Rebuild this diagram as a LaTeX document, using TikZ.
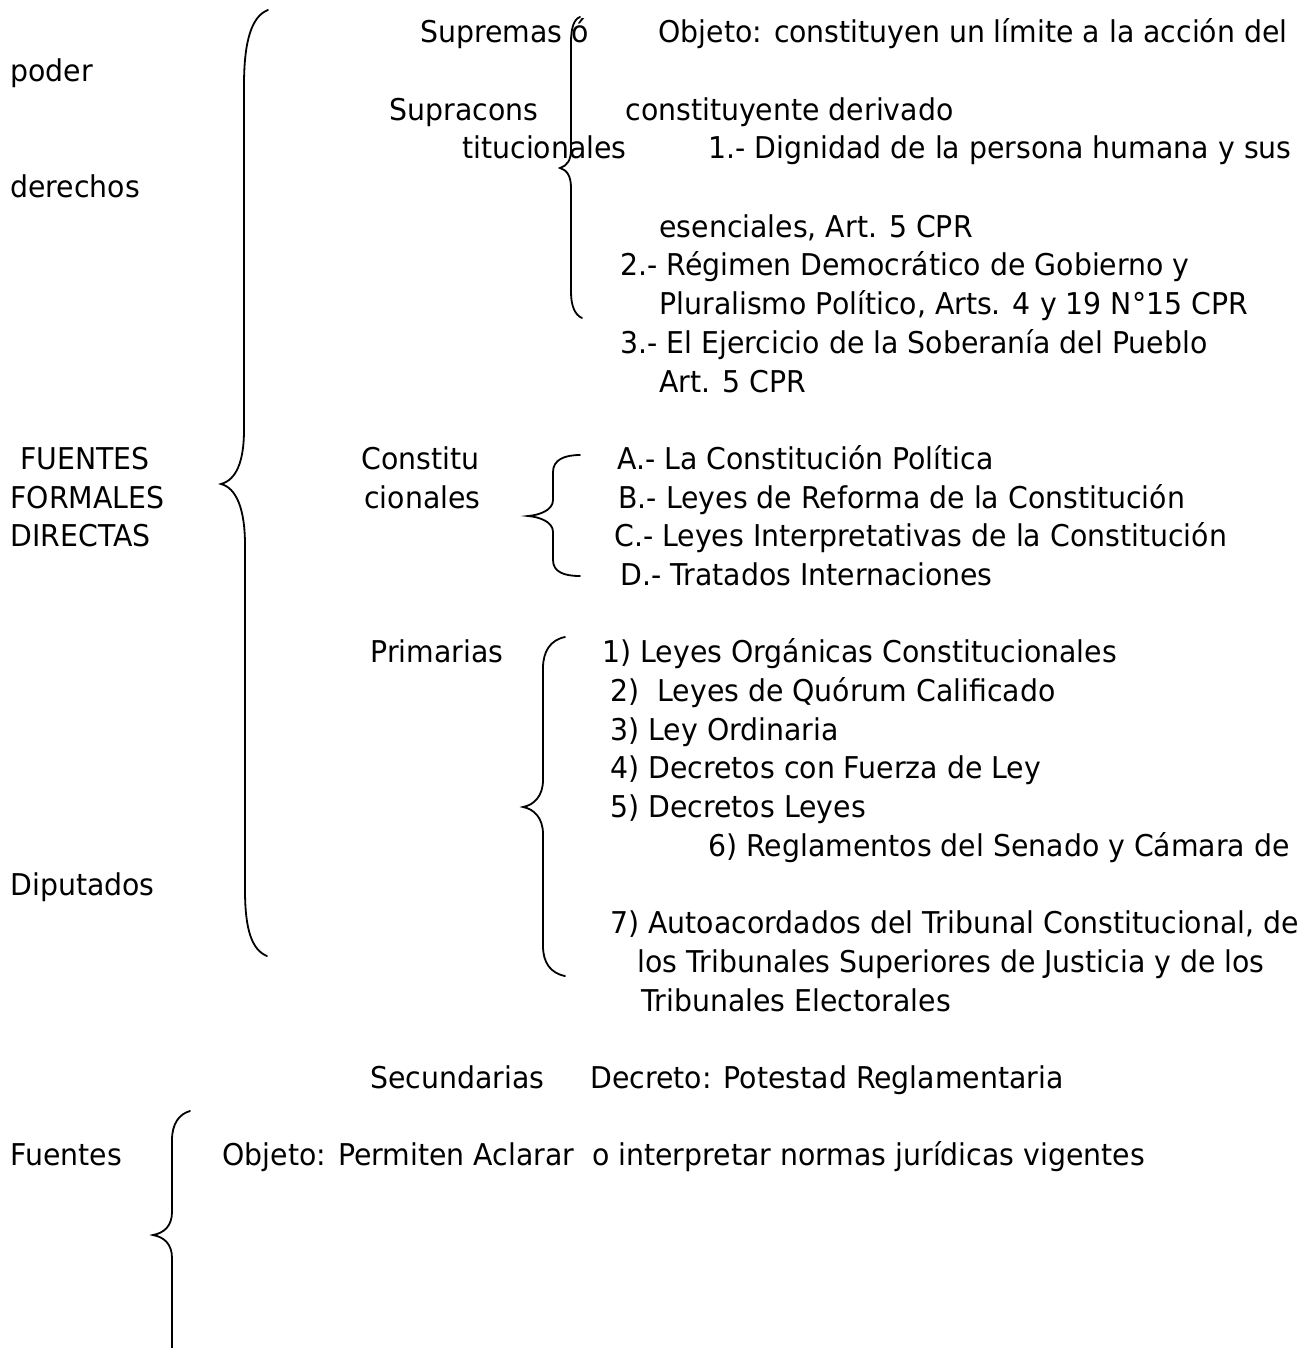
\documentclass[tikz,border=0pt]{standalone}
\usepackage{fontspec}
\setmainfont{DejaVu Sans}[FakeStretch=0.945]
\tikzset{
        txt/.style={anchor=base west, inner sep=0pt, font=\fontsize{15pt}{18pt}\selectfont},
        brace/.style={draw=black, line width=0.9pt, line cap=round}
          }
\begin{document}
\begin{tikzpicture}[x=0.5pt, y=-0.5pt]
        \useasboundingbox (0,0) rectangle (1310,1348);
        \node[txt] (supremas) at (420,43) {Supremas ó};
        \node[txt] (objeto) at (658,43) {Objeto: constituyen un límite a la acción del};
        \node[txt] (poder) at (10,82) {poder};
        \node[txt] (supracons) at (389,121) {Supracons};
        \node[txt] (constituyente) at (625,121) {constituyente derivado};
        \node[txt] (titucionales) at (462,159) {titucionales};
        \node[txt] (dignidad) at (708,159) {1.- Dignidad de la persona humana y sus};
        \node[txt] (derechos) at (10,198) {derechos};
        \node[txt] (esenciales) at (659,237) {esenciales, Art. 5 CPR};
        \node[txt] (regimen) at (620,275) {2.- Régimen Democrático de Gobierno y};
        \node[txt] (pluralismo) at (659,314) {Pluralismo Político, Arts. 4 y 19 N°15 CPR};
        \node[txt] (soberania) at (620,353) {3.- El Ejercicio de la Soberanía del Pueblo};
        \node[txt] (art5) at (659,392) {Art. 5 CPR};
        \node[txt] (fuentes1) at (20,469) {FUENTES};
        \node[txt] (formales) at (10,508) {FORMALES};
        \node[txt] (directas) at (10,546) {DIRECTAS};
        \node[txt] (constitu) at (361,469) {Constitu};
        \node[txt] (cionales) at (364,508) {cionales};
        \node[txt] (consA) at (617,469) {A.- La Constitución Política};
        \node[txt] (consB) at (618,508) {B.- Leyes de Reforma de la Constitución};
        \node[txt] (consC) at (614,546) {C.- Leyes Interpretativas de la Constitución};
        \node[txt] (consD) at (620,585) {D.- Tratados Internaciones};
        \node[txt] (primarias) at (370,662) {Primarias};
        \node[txt] (prim1) at (602,662) {1) Leyes Orgánicas Constitucionales};
        \node[txt] (prim2) at (610,701) {2)~ Leyes de Quórum Calificado};
        \node[txt] (prim3) at (610,740) {3) Ley Ordinaria};
        \node[txt] (prim4) at (610,778) {4) Decretos con Fuerza de Ley};
        \node[txt] (prim5) at (610,817) {5) Decretos Leyes};
        \node[txt] (prim6) at (708,856) {6) Reglamentos del Senado y Cámara de};
        \node[txt] (diputados) at (10,895) {Diputados};
        \node[txt] (prim7) at (610,933) {7) Autoacordados del Tribunal Constitucional, de};
        \node[txt] (prim7b) at (637,972) {los Tribunales Superiores de Justicia y de los};
        \node[txt] (prim7c) at (641,1011) {Tribunales Electorales};
        \node[txt] (secundarias) at (370,1088) {Secundarias};
        \node[txt] (decreto) at (590,1088) {Decreto: Potestad Reglamentaria};
        \node[txt] (fuentes2) at (10,1165) {Fuentes};
        \node[txt] (aclarar) at (222,1165) {Objeto: Permiten Aclarar~ o interpretar normas jurídicas vigentes};
        \draw[brace] (268,10) .. controls (252,16) and (244,40) .. (244,85) -- (244,430)
          .. controls (244,462) and (236,480) .. (221,484) .. controls (236,488) and (245,508) .. (245,545)
          -- (245,890) .. controls (245,930) and (252,950) .. (267,956);
        \draw[brace] (580,17) .. controls (574,19) and (571,28) .. (571,42) -- (571,150)
          .. controls (571,160) and (567,166) .. (560,168) .. controls (567,170) and (571,176) .. (571,188)
          -- (571,292) .. controls (571,306) and (575,315) .. (582,318);
        \draw[brace] (580,455) .. controls (564,455) and (553,460) .. (553,472) -- (553,500)
          .. controls (553,510) and (540,515) .. (528,516) .. controls (540,517) and (553,522) .. (553,532)
          -- (553,560) .. controls (553,572) and (564,576) .. (580,576);
        \draw[brace] (565,637) .. controls (550,640) and (543,652) .. (543,668) -- (543,780)
          .. controls (543,796) and (534,805) .. (523,807) .. controls (534,809) and (543,818) .. (543,834)
          -- (543,946) .. controls (543,962) and (550,973) .. (565,976);
        \draw[brace] (190,1111) .. controls (179,1114) and (172,1124) .. (172,1140) -- (172,1212)
          .. controls (172,1226) and (164,1233) .. (153,1235) .. controls (164,1237) and (172,1244) .. (172,1258)
          -- (172,1348);
      \end{tikzpicture}
\end{document}
